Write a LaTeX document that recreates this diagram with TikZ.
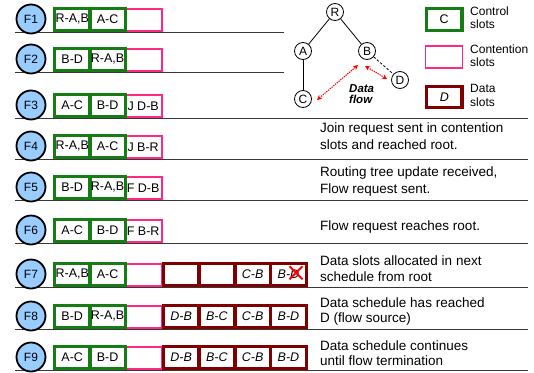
\documentclass[tikz,border=0pt]{standalone}
\usepackage{fontspec}
\setmainfont{Liberation Sans}
\usetikzlibrary{arrows.meta}
\definecolor{ctrlc}{RGB}{20,125,20}
\definecolor{contc}{RGB}{255,40,130}
\definecolor{datc}{RGB}{128,0,0}
\definecolor{fcirc}{RGB}{153,204,255}
\definecolor{rulec}{RGB}{55,55,55}
\begin{document}
\begin{tikzpicture}[x=1pt,y=-1pt,
  ctrlbox/.style={draw=ctrlc, line width=3.2pt, minimum width=35.3pt, minimum height=22pt, inner sep=0pt, anchor=south west, font=\fontsize{12.5}{14}\selectfont},
  contbox/.style={draw=contc, line width=1.8pt, minimum width=37.5pt, minimum height=22pt, inner sep=0pt, anchor=south west, font=\fontsize{12.5}{14}\selectfont},
  datbox/.style={draw=datc, line width=3.4pt, minimum width=35.8pt, minimum height=22pt, inner sep=0pt, anchor=south west, font=\fontsize{12.5}{14}\selectfont\itshape},
  fnode/.style={circle, draw=black, line width=1.8pt, fill=fcirc, minimum size=29pt, inner sep=0pt, font=\fontsize{12}{13}\selectfont},
  tnode/.style={circle, draw=black, line width=0.8pt, fill=white, minimum size=17pt, inner sep=0pt, font=\fontsize{12}{14}\selectfont},
  rowline/.style={draw=rulec, line width=1pt},
  desc/.style={anchor=base west, inner sep=0pt, font=\fontsize{13.5}{17}\selectfont},
  legtxt/.style={anchor=base west, inner sep=0pt, font=\fontsize{12}{14}\selectfont},
  flowarrow/.style={draw=red, line width=1.1pt, dash pattern=on 1.3pt off 1pt, {Stealth[length=5pt,width=5pt]}-{Stealth[length=5pt,width=5pt]}}
]
\useasboundingbox (0,0) rectangle (534,372);

% row lines
\foreach \n/\L/\E in {1/32/284,2/72/284,3/118/528,4/159/528,5/200/528,6/243/528,7/287/528,8/329/528,9/370/528}{
  \coordinate (ls\n) at (15,\L);
  \coordinate (le\n) at (\E,\L);
  \draw[rowline] (ls\n) -- (le\n);
}

% control and contention slots
\foreach \n/\L/\ca/\cb/\p in {1/32/{R-A,B}/{A-C}/{},2/72/{B-D}/{R-A,B}/{},3/118/{A-C}/{B-D}/{J D-B},4/159/{R-A,B}/{A-C}/{J B-R},5/200/{B-D}/{R-A,B}/{F D-B},6/243/{A-C}/{B-D}/{F B-R},7/287/{R-A,B}/{A-C}/{},8/329/{B-D}/{R-A,B}/{},9/370/{A-C}/{B-D}/{}}{
  \node[contbox] (p\n) at (123.5,\L) {\p};
  \node[ctrlbox] (ca\n) at (53,\L) {\ca};
  \node[ctrlbox] (cb\n) at (88.3,\L) {\cb};
  \node[fnode] (f\n) at (31,\L-13) {F\n};
}

% data slots
\foreach \n/\L/\da/\db/\dc/\dd in {7/287/{}/{}/{C-B}/{B-D},8/329/{D-B}/{B-C}/{C-B}/{B-D},9/370/{D-B}/{B-C}/{C-B}/{B-D}}{
  \node[datbox] (da\n) at (161.5,\L) {\da};
  \node[datbox] (db\n) at (197.3,\L) {\db};
  \node[datbox] (dc\n) at (233.1,\L) {\dc};
  \node[datbox] (dd\n) at (268.9,\L) {\dd};
}
\draw[red, line width=2pt] ([shift={(1,-8)}]dd7.center) -- ([shift={(14,5)}]dd7.center)
                           ([shift={(14,-8)}]dd7.center) -- ([shift={(1,5)}]dd7.center);

% descriptions
\node[desc] (t4a) at (320,132) {Join request sent in contention};
\node[desc] (t4b) at (320,149) {slots and reached root.};
\node[desc] (t5a) at (320,176) {Routing tree update received,};
\node[desc] (t5b) at (320,193) {Flow request sent.};
\node[desc] (t6a) at (320,230) {Flow request reaches root.};
\node[desc] (t7a) at (320,265) {Data slots allocated in next};
\node[desc] (t7b) at (320,281) {schedule from root};
\node[desc] (t8a) at (320,307) {Data schedule has reached};
\node[desc] (t8b) at (320,322) {D (flow source)};
\node[desc] (t9a) at (320,350) {Data schedule continues};
\node[desc] (t9b) at (320,365) {until flow termination};

% routing tree
\node[tnode] (R) at (335,12) {R};
\node[tnode] (A) at (303,51) {A};
\node[tnode] (B) at (367,51) {B};
\node[tnode] (C) at (303,99) {C};
\node[tnode] (D) at (400,80) {D};
\draw[line width=0.8pt] (R) -- (A);
\draw[line width=0.8pt] (R) -- (B);
\draw[line width=0.8pt] (A) -- (C);
\draw[line width=0.8pt, dash pattern=on 2.5pt off 1.8pt] (B) -- (D);
\coordinate (f1s) at (317,100);
\coordinate (f1e) at (358,65);
\coordinate (f2s) at (365,66);
\coordinate (f2e) at (387,79);
\draw[flowarrow] (f1s) -- (f1e);
\draw[flowarrow] (f2s) -- (f2e);
\node[anchor=base west, inner sep=0pt, font=\fontsize{11.5}{13}\selectfont\bfseries\itshape] (df1) at (349,92.5) {Data};
\node[anchor=base west, inner sep=0pt, font=\fontsize{11.5}{13}\selectfont\bfseries\itshape] (df2) at (349,103.5) {flow};

% legend
\node[ctrlbox, anchor=north west, minimum width=35.5pt, minimum height=22pt] (lgc) at (424.8,6.5) {C};
\node[contbox, anchor=north west, minimum width=37pt, minimum height=21.5pt] (lgp) at (424.5,45.3) {};
\node[datbox, anchor=north west, minimum width=35.3pt, minimum height=20.7pt] (lgd) at (425,85) {D};
\node[legtxt] (lt1) at (470,15) {Control};
\node[legtxt] (lt2) at (470,28) {slots};
\node[legtxt] (lt3) at (470,53) {Contention};
\node[legtxt] (lt4) at (470,66.5) {slots};
\node[legtxt] (lt5) at (470,92.5) {Data};
\node[legtxt] (lt6) at (470,106) {slots};
\end{tikzpicture}
\end{document}
